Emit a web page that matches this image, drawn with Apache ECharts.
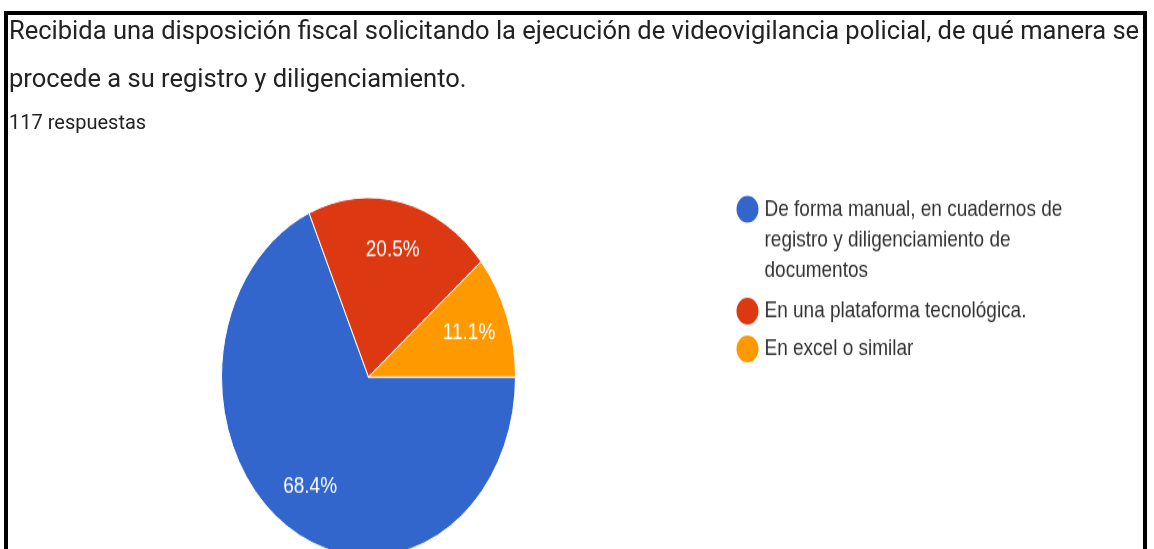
<!DOCTYPE html>
<html><head><meta charset="utf-8">
<script src="https://cdn.jsdelivr.net/npm/echarts@6/dist/echarts.min.js"></script>
<style>
html,body{margin:0;padding:0;background:#fff;}
#wrap{position:relative;width:1154px;height:549px;overflow:hidden;background:#fff;}
#base{position:absolute;left:0;top:0;width:1154px;height:549px;}
#pie{position:absolute;left:0;top:0;width:1154px;height:450px;transform:scaleY(1.22);transform-origin:0 0;}
</style></head><body>
<div id="wrap"><div id="base"></div><div id="pie"></div></div>
<script>
const titleLines = [
  'Recibida una disposición fiscal solicitando la ejecución de videovigilancia policial, de qué manera se',
  'procede a su registro y diligenciamiento.'
];
const subtitle = '117 respuestas';
const categories = [
  'De forma manual, en cuadernos de registro y diligenciamiento de documentos',
  'En una plataforma tecnológica.',
  'En excel o similar'
];
const counts = [80, 24, 13];
const colors = ['#3366cc', '#dc3912', '#ff9900'];

const pieData = categories.map((c, i) => ({ name: c, value: counts[i] }));

const LEGEND_FONT = '19px "Liberation Sans", Arial';
const measureCtx = document.createElement('canvas').getContext('2d');
function wrapText(text, maxW) {
  measureCtx.font = LEGEND_FONT;
  const words = text.split(' ');
  const lines = [];
  let cur = '';
  words.forEach(w => {
    const test = cur ? cur + ' ' + w : w;
    if (measureCtx.measureText(test).width > maxW && cur) { lines.push(cur); cur = w; }
    else cur = test;
  });
  if (cur) lines.push(cur);
  return lines;
}
function legendFormatter(name) {
  const lines = wrapText(name, 330);
  if (lines.length === 1) return '{t|' + lines[0] + '}';
  // keep the icon aligned with the first line
  return '{top|\u00a0}\n' + lines.map(l => '{t|' + l + '}').join('\n') + '\n{bot|\u00a0}';
}

const base = echarts.init(document.getElementById('base'), null, { renderer: 'canvas' });
base.setOption({
  animation: false,
  backgroundColor: '#fff',
  title: {
    text: titleLines.join('\n'),
    subtext: subtitle,
    left: 4, top: 4, padding: 5, itemGap: 10,
    textStyle: { fontFamily: 'Roboto', fontSize: 25.5, fontWeight: 'normal', color: '#222', lineHeight: 47.5 },
    subtextStyle: { fontFamily: 'Roboto', fontSize: 20, color: '#222', lineHeight: 20 }
  },
  graphic: [{
    type: 'rect', z: 100,
    shape: { x: 6, y: 13, width: 1139, height: 600 },
    style: { fill: 'none', stroke: '#000', lineWidth: 4 }
  }]
});

const pie = echarts.init(document.getElementById('pie'), null, { renderer: 'canvas' });
const center = [368.5, 309];
const legendRich = {
  t: { fontFamily: 'Liberation Sans, Arial', fontSize: 19, color: '#333', lineHeight: 25 },
  top: { fontSize: 1, lineHeight: 55 },
  bot: { fontSize: 1, lineHeight: 5 }
};
pie.setOption({
  animation: false,
  color: colors,
  legend: {
    orient: 'vertical', left: 734.5, top: 131, padding: 0,
    itemWidth: 24, itemHeight: 24, itemGap: 5, icon: 'circle', selectedMode: false,
    formatter: legendFormatter,
    textStyle: { fontFamily: 'Liberation Sans, Arial', fontSize: 19, color: '#333', rich: legendRich },
    data: categories
  },
  series: [
    {
      type: 'pie', center: center, radius: 147, startAngle: 0, clockwise: true, silent: true,
      data: pieData,
      label: { show: false }, labelLine: { show: false },
      itemStyle: { borderColor: '#fff', borderWidth: 1 }
    },
    {
      type: 'pie', center: center, radius: 208, startAngle: 0, clockwise: true, silent: true,
      percentPrecision: 1,
      data: pieData,
      itemStyle: { color: 'transparent', borderWidth: 0 },
      label: { show: true, position: 'inside', formatter: '{d}%', color: '#fff', fontSize: 19,
               fontFamily: 'Liberation Sans, Arial', textBorderWidth: 0 },
      labelLine: { show: false }
    }
  ]
});
</script>
</body></html>
